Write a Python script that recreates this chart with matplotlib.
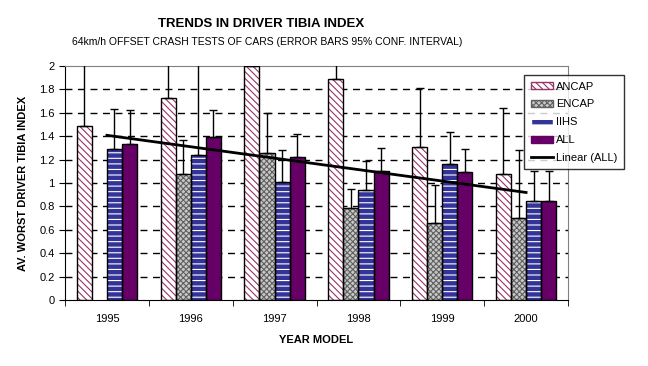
import matplotlib.pyplot as plt
from matplotlib.patches import Patch
from matplotlib.lines import Line2D
import numpy as np

plt.rcParams['font.family'] = ['Liberation Sans', 'DejaVu Sans']
plt.rcParams['hatch.linewidth'] = 0.8

years = ['1995', '1996', '1997', '1998', '1999', '2000']
series = ['ANCAP', 'ENCAP', 'IIHS', 'ALL']

ancap = [1.49, 1.73, 2.00, 1.89, 1.31, 1.08]
encap = [np.nan, 1.08, 1.26, 0.79, 0.66, 0.70]
iihs = [1.29, 1.24, 1.01, 0.94, 1.16, 0.85]
all_ = [1.33, 1.39, 1.22, 1.10, 1.09, 0.85]

# upper end of 95% conf. interval (values above 2 run off the chart)
ancap_hi = [2.3, 2.3, 2.3, 2.3, 1.81, 1.64]
encap_hi = [np.nan, 1.37, 1.60, 0.95, 0.98, 1.28]
iihs_hi = [1.63, 2.3, 1.28, 1.19, 1.44, 1.10]
all_hi = [1.62, 1.62, 1.42, 1.30, 1.29, 1.10]

values = [ancap, encap, iihs, all_]
uppers = [ancap_hi, encap_hi, iihs_hi, all_hi]

# face, hatch, hatch colour
styles = [('white', '\\\\\\\\\\', '#993366'),
          ('#c8c8c8', 'xxxxxx', '#606060'),
          ('#333399', '---', 'white'),
          ('#660066', '', '#660066')]

fig = plt.figure(figsize=(6.48, 3.66), dpi=100)
ax = fig.add_axes([65/648, 66/366, (568-65)/648, (300-66)/366])

x = np.arange(len(years))
w = 0.18
for i, vals in enumerate(values):
    pos = x + (i - 1.5) * w
    face, hatch, hc = styles[i]
    v = np.array(vals)
    ax.bar(pos, v, w, color=face, hatch=hatch, edgecolor=hc, linewidth=0, zorder=2)
    ax.bar(pos, v, w, fill=False, edgecolor='black', linewidth=1, zorder=3)
    err = np.array(uppers[i]) - v
    ax.errorbar(pos, v, yerr=[np.zeros_like(err), err], fmt='none',
                ecolor='black', elinewidth=1, capsize=3, capthick=1, zorder=4)

coef = np.polyfit(x + 1, all_, 1)
ax.plot(x, np.polyval(coef, x + 1), color='black', lw=2, zorder=5)

ax.set_xlim(-0.5, 5.5)
ax.set_ylim(0, 2)
ax.set_yticks(np.arange(0, 2.01, 0.2))
ax.set_yticklabels(['0', '0.2', '0.4', '0.6', '0.8', '1', '1.2', '1.4', '1.6', '1.8', '2'])
ax.set_xticks(x)
ax.set_xticklabels(years)
ax.set_xticks(np.arange(-0.5, 6, 1), minor=True)
ax.tick_params(axis='x', which='major', length=0, labelsize=8, pad=10)
ax.tick_params(axis='x', which='minor', length=4, direction='out')
ax.tick_params(axis='y', length=4, direction='out', labelsize=8)
for yv in np.arange(0.2, 1.99, 0.2):
    ax.axhline(yv, color='black', lw=1, ls=(0, (5, 4)), zorder=1)

for s in ['top', 'right']:
    ax.spines[s].set_color('#808080')
for s in ['left', 'bottom']:
    ax.spines[s].set_color('black')

ax.set_ylabel('AV. WORST DRIVER TIBIA INDEX', fontsize=8, fontweight='bold', labelpad=8)
ax.set_xlabel('YEAR MODEL', fontsize=8, fontweight='bold', labelpad=8)

fig.text(261/648, 1 - 24/366, 'TRENDS IN DRIVER TIBIA INDEX', ha='center', va='center',
         fontsize=9.5, fontweight='bold')
fig.text(72/648, 1 - 42/366, '64km/h OFFSET CRASH TESTS OF CARS (ERROR BARS 95% CONF. INTERVAL)',
         ha='left', va='center', fontsize=7.5)

handles = []
for i, name in enumerate(series):
    face, hatch, hc = styles[i]
    handles.append(Patch(facecolor=face, hatch=hatch, edgecolor=hc, label=name))
handles.append(Line2D([0], [0], color='black', lw=2, label='Linear (ALL)'))
leg = fig.legend(handles=handles, loc='upper left', bbox_to_anchor=(524/648, 1 - 75/366),
                 fontsize=8, frameon=True, fancybox=False, edgecolor='black',
                 handlelength=2.0, handleheight=0.6, labelspacing=0.7, borderpad=0.6,
                 handletextpad=0.3, borderaxespad=0)
leg.get_frame().set_linewidth(1)

fig.savefig('out.png', dpi=100)
